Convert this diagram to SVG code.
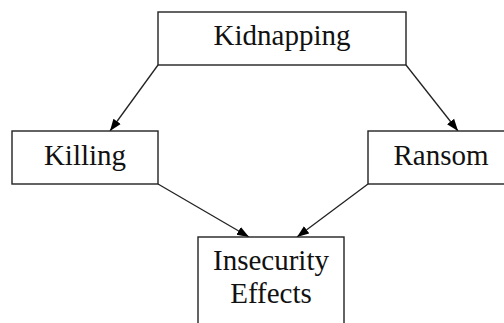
<svg xmlns="http://www.w3.org/2000/svg" width="504" height="323" viewBox="0 0 504 323">
<style>
.box{fill:#fff;stroke:#222;stroke-width:1.4}
.lbl{font-family:"Liberation Serif","Times New Roman",serif;font-size:29px;fill:#111;text-anchor:middle}
.edge{stroke:#222;stroke-width:1.3;fill:none;marker-end:url(#ah)}
</style>
<defs>
<marker id="ah" markerUnits="userSpaceOnUse" markerWidth="13" markerHeight="11" refX="12" refY="5" orient="auto" viewBox="0 0 13 11">
<path d="M0,0.5 L12,5 L0,9.5 z" fill="#000"/>
</marker>
</defs>
<rect width="504" height="323" fill="#fff"/>
<g id="connectors">
<line class="edge" x1="158" y1="65" x2="110" y2="131"/>
<line class="edge" x1="406" y1="65" x2="458" y2="131"/>
<line class="edge" x1="158" y1="184" x2="249" y2="237"/>
<line class="edge" x1="368" y1="184" x2="297" y2="237"/>
</g>
<g id="kidnapping">
<rect class="box" x="158" y="12" width="248" height="53"/>
<text class="lbl" x="282" y="45">Kidnapping</text>
</g>
<g id="killing">
<rect class="box" x="12" y="131" width="146" height="53"/>
<text class="lbl" x="85" y="165">Killing</text>
</g>
<g id="ransom">
<rect class="box" x="368" y="131" width="146" height="53"/>
<text class="lbl" x="441" y="165">Ransom</text>
</g>
<g id="insecurity">
<rect class="box" x="198" y="237" width="146" height="100"/>
<text class="lbl" x="271" y="270">Insecurity</text>
<text class="lbl" x="271" y="303">Effects</text>
</g>
</svg>
